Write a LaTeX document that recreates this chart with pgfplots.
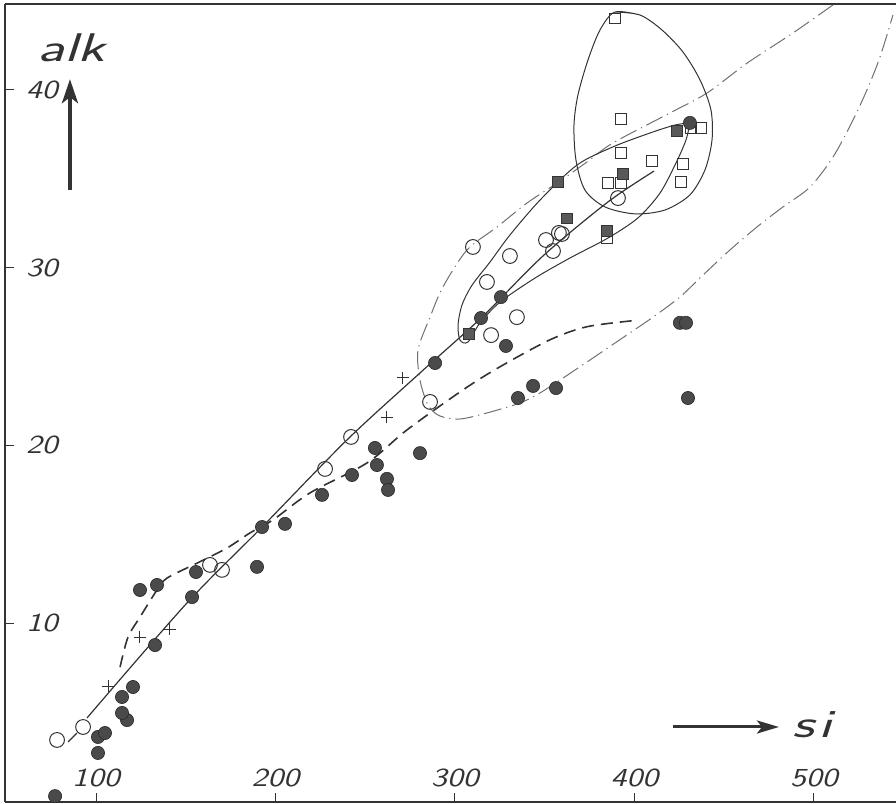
\documentclass[border=0pt]{standalone}
\usepackage{fontspec}
\usepackage{graphicx}
\usepackage{pgfplots}
\pgfplotsset{compat=1.18}
\usetikzlibrary{arrows.meta,calc}
\definecolor{ink}{HTML}{333333}
\definecolor{inkl}{HTML}{707070}
\definecolor{dot}{HTML}{2a2a2a}
\newcommand{\tickfont}{\fontsize{13}{15}\selectfont\sffamily\itshape}
\newcommand{\labfont}{\fontsize{20}{24}\selectfont\sffamily\itshape}
\begin{document}
\begin{tikzpicture}
\begin{axis}[
 scale only axis, width=445.5pt, height=399pt,
 xmin=49.3, xmax=545.7, ymin=-0.07, ymax=44.83,
 axis x line*=bottom, axis y line*=left,
 axis line style={ink, line width=0.6pt},
 xtick={100,200,300,400,500}, ytick={10,20,30,40},
 tick align=inside, major tick length=4.5pt,
 tick style={ink, line width=0.5pt},
 /pgf/number format/assume math mode=true,
 ticklabel style={font=\tickfont, text=ink},
 xticklabel style={anchor=base, yshift=7.5pt},
 yticklabel style={anchor=west, xshift=7pt},
 xticklabel={\scalebox{1.25}[1]{\pgfmathprintnumber{\tick}}},
 yticklabel={\scalebox{1.25}[1]{\pgfmathprintnumber{\tick}}},
 clip=false,
]
% dash-dot envelope
\addplot[inkl, line width=0.5pt, smooth, dash pattern=on 9pt off 2.5pt on 0.6pt off 2.5pt] coordinates {
(510.6,44.78) (488.3,43.2) (462.7,41.5) (440.4,39.82) (419.8,38.70) (388.0,37.01) (373.5,35.94)
(356.8,34.75) (340.1,33.63) (323.4,32.28) (306.7,30.99) (293.3,28.91) (286.1,27.21) (279.4,25.36)
(280.5,23.67) (285.0,22.26) (291.6,21.65) (302.8,21.48) (317.8,21.82) (336.2,22.38) (347.4,22.95)
(358.5,23.67) (375.2,24.80) (395.8,26.21) (410.3,27.21) (425.3,28.34) (438.2,29.58) (453.2,30.99)
(468.2,32.28) (482.7,33.41) (497.8,34.53) (510.6,36.22) (521.2,38.19) (529.5,39.99) (536.8,41.85) (544.0,44.21)};
% main solid line
\addplot[ink, line width=0.6pt, smooth] coordinates {
(95.0,4.66) (150.7,11.13) (192.5,15.40) (239.8,20.30) (280.5,24.07) (314.5,27.16) (349.0,30.65) (385.2,33.69) (410.9,35.43)};
\addplot[ink, line width=0.6pt] coordinates {(84.4,3.31) (89.4,3.81)};
% dashed line
\addplot[ink, line width=0.8pt, smooth, dash pattern=on 6pt off 3.5pt] coordinates {
(113.4,7.52) (117.8,9.20) (124.5,10.33) (134.0,11.86) (139.6,12.53) (156.3,13.37) (173.0,14.22)
(185.8,15.07) (198.6,15.80) (219.2,17.32) (251.0,19.01) (273.3,20.87) (304.5,23.12) (325.1,24.42)
(353.0,25.94) (373.5,26.67) (399.2,27.01)};
% elongated loop
\addplot[ink, line width=0.5pt, smooth] coordinates {
(430.9,38.14) (428.7,37.18) (423.1,35.88) (414.2,34.19) (401.9,32.79) (385.2,31.66) (364.1,30.54)
(344.6,29.41) (325.1,28.06) (313.9,26.88) (307.2,25.81) (302.8,25.92) (301.7,26.76) (303.9,27.89)
(309.5,29.01) (319.5,30.31) (330.6,31.83) (347.4,33.80) (368.0,35.77) (388.0,36.79) (408.6,37.57)
(422.6,38.02) (430.9,38.14)};
% egg loop
\addplot[ink, line width=0.5pt, smooth] coordinates {
(389.1,44.38) (403.1,44.21) (415.3,43.37) (427.0,42.13) (436.5,40.56) (442.6,38.87) (443.2,37.18)
(439.3,35.50) (430.9,34.09) (417.0,33.24) (400.3,33.02) (383.6,33.41) (372.4,34.36) (367.4,36.05)
(366.3,38.02) (368.5,39.71) (374.1,41.68) (380.8,43.37) (389.1,44.38) (403.1,44.21)};
% open squares
\addplot[only marks, mark=square, mark size=2.6pt, mark options={ink, line width=0.5pt, fill=white}] coordinates {
(389.1,44.0) (392.5,38.37) (431.5,37.86) (437.0,37.86) (392.5,36.45) (409.7,36.0) (427.0,35.82)
(425.9,34.81) (385.2,34.76) (392.5,34.76) (384.7,31.62)};
% filled squares
\addplot[only marks, mark=square*, mark size=2.6pt, mark options={draw=ink, fill=black!65, line width=0.4pt}] coordinates {
(357.4,34.81) (362.4,32.78) (384.7,32.06) (393.6,35.27) (307.8,26.27) (423.7,37.69)};
% open circles
\addplot[only marks, mark=o, mark size=3.7pt, mark options={ink, line width=0.5pt, fill=white}] coordinates {
(78.3,3.42) (92.8,4.15) (163.5,13.27) (170.2,12.99) (227.6,18.67) (242.1,20.47) (286.1,22.44)
(310.0,31.16) (330.6,30.65) (317.8,29.19) (350.7,31.55) (357.9,31.95) (359.6,31.89) (354.6,30.93)
(334.5,27.21) (320.1,26.20) (390.8,33.91)};
% filled circles
\addplot[only marks, mark=*, mark size=3.3pt, mark options={draw=dot, fill=dot!85!white, line width=0.3pt}] coordinates {
(77.2,0.26) (101.1,2.69) (101.1,3.59) (105.0,3.81) (117.3,4.54) (114.5,4.94) (114.5,5.84) (120.6,6.40)
(132.9,8.76) (124.5,11.86) (134.0,12.14) (155.7,12.87) (153.5,11.46) (189.7,13.16) (192.5,15.40)
(205.3,15.58) (225.9,17.21) (242.6,18.33) (255.4,19.85) (256.5,18.89) (262.1,18.11) (262.7,17.49)
(280.5,19.56) (288.9,24.63) (314.5,27.16) (325.6,28.34) (328.4,25.59) (335.1,22.66) (343.5,23.34)
(356.3,23.22) (425.3,26.89) (428.7,26.89) (429.8,22.66) (430.9,38.14)};
% crosses
\addplot[only marks, mark=+, mark size=3pt, mark options={ink, line width=0.5pt}] coordinates {
(106.7,6.45) (124.5,9.2) (141.2,9.66) (262.1,21.59) (271.0,23.79)};
% top frame line
\draw[ink, line width=0.6pt] (rel axis cs:0,1) -- (rel axis cs:1,1);
% axis arrows and labels
\draw[ink, line width=2pt, -{Stealth[length=12pt,width=8pt,inset=3pt]}] (axis cs:85.5,34.37) -- (axis cs:85.5,40.6);
\draw[ink, line width=1.5pt, -{Stealth[length=11pt,width=6.5pt,inset=2.5pt]}] (axis cs:421.5,4.15) -- (axis cs:480.5,4.15);
\node[anchor=base west, inner sep=0pt, text=ink, font=\labfont] at (axis cs:67.1,41.57) {\scalebox{1.5}[1]{alk}};
\node[anchor=base west, inner sep=0pt, text=ink, font=\labfont] at (axis cs:487.7,3.58) {\scalebox{1.5}[1]{s\kern1.5pt i}};
\end{axis}
\pgfresetboundingbox
\path[use as bounding box] ($(current axis.south west)+(-2.5pt,-1pt)$) rectangle ($(current axis.north east)+(0pt,2pt)$);
\end{tikzpicture}
\end{document}
